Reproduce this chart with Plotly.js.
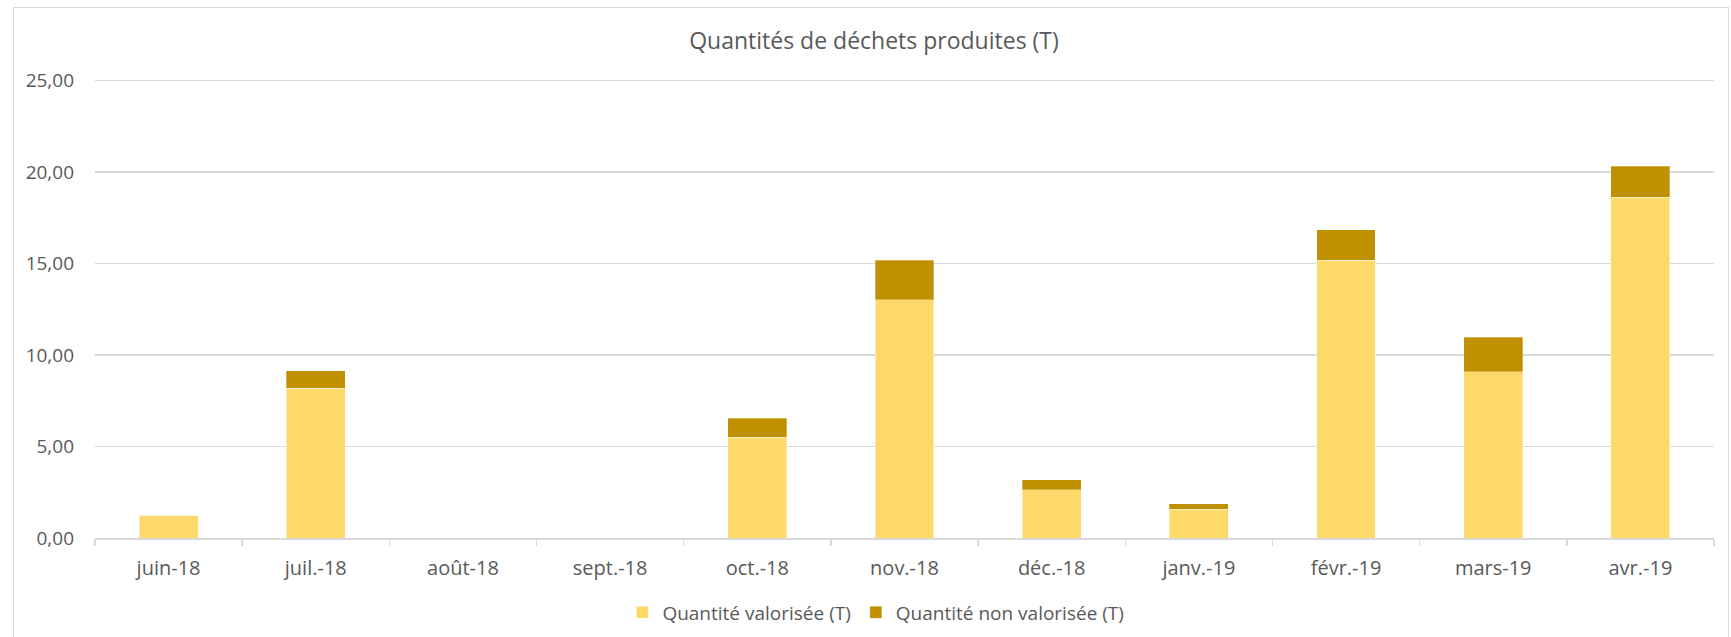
<!DOCTYPE html>
<html>
<head>
<meta charset="utf-8">
<script src="https://cdn.plot.ly/plotly-3.0.1.min.js"></script>
<style>
  html, body { margin: 0; padding: 0; width: 1731px; height: 637px; overflow: hidden; background: #ffffff; }
  #frame { position: absolute; left: 13px; top: 7px; width: 1716px; height: 700px; border: 1px solid #d9d9d9; box-sizing: border-box; }
  #chart { position: absolute; left: 0; top: 0; width: 1731px; height: 637px; }
</style>
</head>
<body>
<div id="frame"></div>
<div id="chart"></div>
<script>
const categories = ["juin-18", "juil.-18", "août-18", "sept.-18", "oct.-18", "nov.-18", "déc.-18", "janv.-19", "févr.-19", "mars-19", "avr.-19"];
const valorisee = [1.24, 8.17, 0, 0, 5.50, 13.01, 2.65, 1.57, 15.18, 9.08, 18.62];
const nonValorisee = [0, 0.97, 0, 0, 1.05, 2.17, 0.54, 0.31, 1.65, 1.88, 1.68];
const seriesNames = ["Quantité valorisée (T)", "Quantité non valorisée (T)"];
const chartTitle = "Quantités de déchets produites (T)";

const textColor = "#595959";
const fontFamily = "'Open Sans', 'Liberation Sans', sans-serif";

const traces = [
  {
    type: "bar",
    name: seriesNames[0],
    x: categories,
    y: valorisee,
    marker: { color: "#FDD96A", line: { color: "rgba(255,255,255,0.7)", width: 0.6 } }
  },
  {
    type: "bar",
    name: seriesNames[1],
    x: categories,
    y: nonValorisee,
    marker: { color: "#BF9000", line: { color: "rgba(255,255,255,0.5)", width: 0.6 } }
  }
];

const layout = {
  width: 1731,
  height: 637,
  paper_bgcolor: "rgba(0,0,0,0)",
  plot_bgcolor: "rgba(0,0,0,0)",
  barmode: "stack",
  bargap: 0.6,
  separators: ", ",
  margin: { l: 95, r: 17, t: 79, b: 99, pad: 0 },
  font: { family: fontFamily, color: textColor, size: 19 },
  title: {
    text: chartTitle,
    font: { family: fontFamily, size: 23, color: textColor },
    x: 874 / 1731, xanchor: "center",
    yref: "container", y: 1 - 41 / 637, yanchor: "middle"
  },
  xaxis: {
    type: "category",
    showgrid: false,
    showline: true,
    linecolor: "#d9d9d9",
    linewidth: 1.5,
    ticks: "outside",
    tickson: "boundaries",
    ticklen: 6,
    tickcolor: "#d9d9d9",
    tickwidth: 1.5,
    tickfont: { family: fontFamily, size: 20, color: textColor },
    ticklabelstandoff: 11,
    zeroline: false
  },
  yaxis: {
    range: [0, 25.08],
    dtick: 5,
    tick0: 0,
    tickformat: ".2f",
    showgrid: true,
    gridcolor: "#d9d9d9",
    gridwidth: 1.5,
    zeroline: false,
    showline: false,
    ticks: "",
    tickfont: { family: fontFamily, size: 19, color: textColor },
    ticklabelstandoff: 20
  },
  showlegend: true,
  legend: {
    orientation: "h",
    xref: "container",
    yref: "container",
    x: 0.506, xanchor: "center",
    y: 1 - 612.5 / 637, yanchor: "middle",
    font: { family: fontFamily, size: 19, color: textColor },
    itemwidth: 30,
    traceorder: "normal"
  }
};

Plotly.newPlot("chart", traces, layout, { displayModeBar: false, staticPlot: true });
</script>
</body>
</html>
